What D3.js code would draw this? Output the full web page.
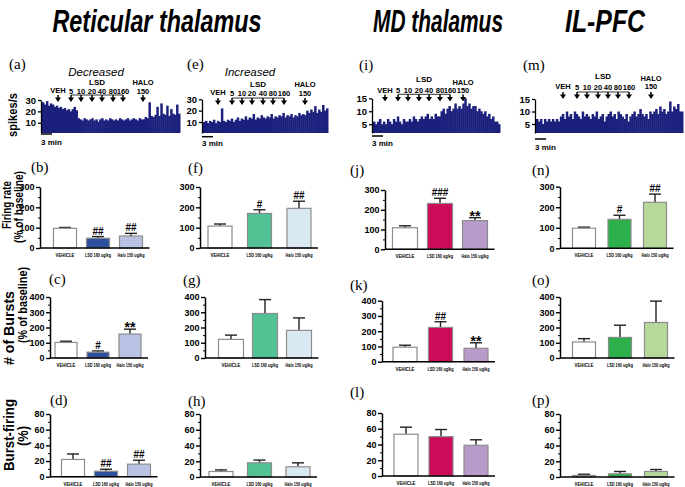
<!DOCTYPE html>
<html><head><meta charset="utf-8">
<script src="https://cdn.jsdelivr.net/npm/d3@7"></script>
<style>body{margin:0;background:#fff} svg{display:block}</style>
</head><body><svg id="c" width="685" height="487"></svg>
<script>
// ---------------- DATA ----------------
const titles = ["Reticular thalamus", "MD thalamus", "IL-PFC"];
const groups = ["VEHICLE", "LSD 160 ug/kg", "Halo 150 ug/kg"];
const doseLabels = ["5", "10", "20", "40", "80", "160"];

// spikes/s histograms
const traceA = [28,26,29,25,27,26,24,25,23,24, 22,23,21,22,20,22,24,21,
  14,13,12,14,13,12,13,14,12,13,11,13,14,12,13,12,14,13,12,13,12,14,13,12,13,14,12,13,14,13,12,14,13,13,
  15,14,28,16,15,17,24,16,27,18,17,25,16,22,18,17,26,18];
const traceE = [10,11,9,11,10,12,9, 11,10,22,11,10,12,11,
  13,10,12,14,11,13,12,15,12,14,13,17,12,14,13,
  16,14,13,15,14,17,13,15,14,16,15,18,14,16,15,17,14,16,15,18,16,17,16,
  20,18,21,19,24,18,21,19,25,20,22];
const traceI = [6,5,6,7,5,6,5,7,6,5,7,6,8,6,5,7,6,6,7,6,8,7,6,7,
  8,7,8,9,7,8,7,9,8,8,
  10,11,9,11,12,10,11,13,11,12,11,13,
  15,12,13,11,12,12,10,11,
  10,9,10,8,9,7,8,6,6,5];
const traceM = [7,6,7,5,7,6,7,6,7,6,7,6,
  8,9,7,10,8,9,7,10,9,8,7,10,8,9,8,7,9,8,10,7,8,9,6,8,9,10,8,9,7,10,9,8,7,9,6,8,9,10,8,9,11,9,8,9,7,10,
  9,10,11,9,12,10,11,9,10,14,10,12,11,13,10,10];

// Reticular thalamus (decreased)
const rtFiring = [97, 48, 59],   rtFiringErr = [4, 8, 13];
const rtBursts = [102, 38, 157], rtBurstsErr = [8, 8, 32];
const rtBurstPct = [22, 7, 16],  rtBurstPctErr = [7, 2.5, 5];
// Reticular thalamus (increased)
const incFiring = [108, 170, 195], incFiringErr = [10, 18, 35];
const incBursts = [122, 292, 181], incBurstsErr = [28, 91, 82];
const incBurstPct = [7, 18, 13],   incBurstPctErr = [2, 3.5, 5];
// MD thalamus
const mdFiring = [109, 232, 145], mdFiringErr = [10, 26, 15];
const mdBursts = [95, 225, 88],   mdBurstsErr = [13, 37, 36];
const mdBurstPct = [53, 50, 39],  mdBurstPctErr = [9, 9, 7];
// IL-PFC
const pfcFiring = [98, 141, 224], pfcFiringErr = [5, 20, 40];
const pfcBursts = [105, 135, 233], pfcBurstsErr = [22, 80, 140];
const pfcBurstPct = [2, 4, 7],    pfcBurstPctErr = [1.5, 3, 2.5];

// significance marks
const sigRtFiring = ["", "##", "##"], sigRtBursts = ["", "#", "**"], sigRtPct = ["", "##", "##"];
const sigIncFiring = ["", "#", "##"];
const sigMdFiring = ["", "###", "**"], sigMdBursts = ["", "##", "**"];
const sigPfcFiring = ["", "#", "##"];
const none = ["", "", ""];

// ---------------- STYLE ----------------
const F = "'Liberation Sans', Arial, Helvetica, sans-serif";
const SERIF = "'Liberation Serif', 'Times New Roman', serif";
const colRT = ["#ffffff", "#2c4f9e", "#b8c2e2"];
const colInc = ["#ffffff", "#52c194", "#d9e9f1"];
const colMD = ["#ffffff", "#cc0c5a", "#b79bcb"];
const colPFC = ["#ffffff", "#2bb04b", "#b6d99b"];
const traceColor = "#1c207d";
const catLen = [19, 26, 27];

const svg = d3.select("#c");

// titles
const titlePos = [{x: 157, w: 209}, {x: 438, w: 130}, {x: 605, w: 80}];
titles.forEach((t, i) => svg.append("text")
  .attr("x", titlePos[i].x).attr("y", 32).attr("text-anchor", "middle")
  .attr("font-family", F).attr("font-weight", "bold").attr("font-style", "italic")
  .attr("font-size", 32).attr("textLength", titlePos[i].w).attr("lengthAdjust", "spacingAndGlyphs")
  .text(t));

function txt(x, y, s, size, opts = {}) {
  const t = svg.append("text").attr("x", x).attr("y", y).attr("font-size", size)
    .attr("font-family", opts.family || F).attr("text-anchor", opts.anchor || "start")
    .attr("font-weight", opts.weight || "normal").attr("font-style", opts.style || "normal")
    .attr("fill", "#000").text(s);
  if (opts.len) t.attr("textLength", opts.len).attr("lengthAdjust", "spacingAndGlyphs");
  if (opts.rotate) t.attr("transform", `rotate(-90,${x},${y})`);
  return t;
}

txt(96, 76, "Decreased", 11.5, {anchor: "middle", style: "italic"});
txt(250, 76, "Increased", 11.5, {anchor: "middle", style: "italic"});

// panel letters
const letters = [
  ["(a)", 9, 69], ["(e)", 187, 69], ["(i)", 359, 70], ["(m)", 523, 70],
  ["(b)", 31, 172], ["(f)", 188, 173], ["(j)", 350, 175], ["(n)", 532, 175],
  ["(c)", 49, 284], ["(g)", 183, 285], ["(k)", 350, 290], ["(o)", 532, 285],
  ["(d)", 50, 405], ["(h)", 188, 406], ["(l)", 350, 397], ["(p)", 532, 405]
];
letters.forEach(l => txt(l[1], l[2], l[0], 15, {family: SERIF}));

// y-axis titles
txt(17, 115, "spikes/s", 12.5, {anchor: "middle", weight: "bold", rotate: true, len: 44});
txt(11, 205, "Firing rate", 13, {anchor: "middle", weight: "bold", rotate: true, len: 48});
txt(22.5, 207, "(% of baseline)", 12.5, {anchor: "middle", weight: "bold", rotate: true, len: 72});
txt(14, 328, "# of Bursts", 15, {anchor: "middle", weight: "bold", rotate: true, len: 74});
txt(27, 305, "(% of baseline)", 12.5, {anchor: "middle", weight: "bold", rotate: true, len: 76});
txt(13.5, 435, "Burst-firing", 15, {anchor: "middle", weight: "bold", rotate: true, len: 72});
txt(28, 436, "(%)", 15, {anchor: "middle", weight: "bold", rotate: true, len: 20});

// ---------------- TRACES ----------------
function arrow(g, x, y) {
  g.append("path").attr("d", `M${x},${y}V${y + 3.5}`).attr("stroke", "#000").attr("stroke-width", 1.5);
  g.append("path").attr("d", `M${x - 3},${y + 2.5}L${x + 3},${y + 2.5}L${x},${y + 7}Z`).attr("fill", "#000");
}

function drawTrace(cfg, data) {
  const g = svg.append("g");
  const x = d3.scaleBand().domain(d3.range(data.length)).range([cfg.x0 + 1, cfg.x1]).padding(0);
  const y = d3.scaleLinear().domain(cfg.dom).range([cfg.yBase, cfg.yTop]);
  g.selectAll("rect").data(data).join("rect")
    .attr("x", (d, i) => x(i)).attr("width", x.bandwidth() + 0.5)
    .attr("y", d => y(d)).attr("height", d => cfg.yBase - y(d))
    .attr("fill", traceColor);
  const ax = g.append("g").attr("transform", `translate(${cfg.x0},0)`)
    .call(d3.axisLeft(y).tickValues(cfg.ticks).tickSize(3).tickSizeOuter(0).tickPadding(2));
  ax.select(".domain").attr("stroke-width", 1.3);
  ax.selectAll(".tick line").attr("stroke-width", 1.3);
  ax.selectAll("text").attr("font-family", F).attr("font-weight", "bold").attr("font-size", 9.5);
  // arrows & labels
  arrow(g, cfg.veh, cfg.arrowY);
  txt(cfg.veh, cfg.vehY, "VEH", 7.5, {anchor: "middle", weight: "bold"});
  cfg.doses.forEach((d, i) => {
    arrow(g, d, cfg.arrowY);
    txt(d, cfg.numY, doseLabels[i], 7.5, {anchor: "middle", weight: "bold"});
  });
  g.append("line").attr("x1", cfg.doses[0]).attr("x2", cfg.doses[5])
    .attr("y1", cfg.lineY).attr("y2", cfg.lineY).attr("stroke", "#000").attr("stroke-width", 0.8);
  txt((cfg.doses[0] + cfg.doses[5]) / 2, cfg.lsdY, "LSD", 8, {anchor: "middle", weight: "bold"});
  arrow(g, cfg.halo, cfg.arrowY);
  txt(cfg.halo, cfg.haloY, "HALO", 7.5, {anchor: "middle", weight: "bold"});
  txt(cfg.halo, cfg.h150Y, "150", 7.5, {anchor: "middle", weight: "bold"});
  // scale bar
  g.append("line").attr("x1", cfg.x0).attr("x2", cfg.x0 + 11).attr("y1", cfg.sbY).attr("y2", cfg.sbY)
    .attr("stroke", "#000").attr("stroke-width", 1.5);
  txt(cfg.x0, cfg.sbT, "3 min", 8, {weight: "bold"});
}

drawTrace({x0: 41, x1: 180, yBase: 133, yTop: 100, dom: [1, 30], ticks: [10, 20, 30],
  veh: 58, doses: [71, 81, 92, 102, 113, 123], halo: 143,
  vehY: 93, numY: 93.5, lsdY: 85, haloY: 85, h150Y: 93.5, lineY: 95, arrowY: 95, sbY: 134, sbT: 145}, traceA);
drawTrace({x0: 202, x1: 328, yBase: 133, yTop: 99.3, dom: [0.3, 30], ticks: [10, 20, 30],
  veh: 218, doses: [232, 242, 252, 263, 273, 284], halo: 305,
  vehY: 95, numY: 96, lsdY: 87, haloY: 87, h150Y: 96, lineY: 98, arrowY: 98, sbY: 136.7, sbT: 146}, traceE);
drawTrace({x0: 372, x1: 500, yBase: 133, yTop: 98.3, dom: [1.6, 15], ticks: [5, 10, 15],
  veh: 385, doses: [398, 408, 419, 429, 440, 450], halo: 463,
  vehY: 93, numY: 93, lsdY: 82, haloY: 85, h150Y: 93, lineY: 94.3, arrowY: 94.5, sbY: 136, sbT: 146}, traceI);
drawTrace({x0: 535, x1: 683, yBase: 133, yTop: 99, dom: [1.4, 15], ticks: [5, 10, 15],
  veh: 563, doses: [577, 587, 598, 608, 618, 629], halo: 651,
  vehY: 89, numY: 90, lsdY: 79, haloY: 81, h150Y: 89, lineY: 92, arrowY: 92, sbY: 139, sbT: 150}, traceM);

// ---------------- BAR PANELS ----------------
function drawBars(cfg, vals, errs, colors, marks) {
  const g = svg.append("g");
  const s = (cfg.c[2] - cfg.c[0]) / 2;
  const p = 1 - cfg.w / s;
  const x = d3.scaleBand().domain(groups).range([cfg.c[0] - s / 2, cfg.c[2] + s / 2])
    .paddingInner(p).paddingOuter(p / 2);
  const y = d3.scaleLinear().domain([0, cfg.max]).range([cfg.yBot, cfg.yTop]);
  const rows = groups.map((k, i) => ({k, v: vals[i], e: errs[i], c: colors[i], m: marks[i]}));
  // error bars (upper only)
  rows.forEach(r => {
    const cx = x(r.k) + x.bandwidth() / 2;
    g.append("line").attr("x1", cx).attr("x2", cx).attr("y1", y(r.v)).attr("y2", y(r.v + r.e))
      .attr("stroke", "#222").attr("stroke-width", 1.4);
    g.append("line").attr("x1", cx - 6).attr("x2", cx + 6).attr("y1", y(r.v + r.e)).attr("y2", y(r.v + r.e))
      .attr("stroke", "#222").attr("stroke-width", 1.4);
    if (r.m) {
      const star = r.m.indexOf("*") >= 0;
      txt(cx, y(r.v + r.e) - (star ? -3 : 2), r.m, star ? 14 : 10, {anchor: "middle", weight: "bold"});
    }
  });
  g.selectAll("rect.bar").data(rows).join("rect").attr("class", "bar")
    .attr("x", d => x(d.k)).attr("width", x.bandwidth())
    .attr("y", d => y(d.v)).attr("height", d => cfg.yBot - y(d.v))
    .attr("fill", d => d.c).attr("stroke", "#8c8c8c").attr("stroke-width", 1.2);
  // axes
  const xEnd = cfg.c[2] + cfg.w / 2 + 7;
  g.append("line").attr("x1", cfg.x0).attr("x2", xEnd).attr("y1", cfg.yBot).attr("y2", cfg.yBot)
    .attr("stroke", "#000").attr("stroke-width", 1.5);
  const minor = g.append("g").attr("transform", `translate(${cfg.x0},0)`)
    .call(d3.axisLeft(y).tickValues(d3.range(cfg.step / 2, cfg.max, cfg.step)).tickSize(2).tickSizeOuter(0).tickFormat(""));
  minor.select(".domain").remove();
  minor.selectAll(".tick line").attr("stroke-width", 1);
  const ax = g.append("g").attr("transform", `translate(${cfg.x0},0)`)
    .call(d3.axisLeft(y).tickValues(d3.range(0, cfg.max + 0.001, cfg.step)).tickSize(4).tickSizeOuter(0).tickPadding(1.5));
  ax.select(".domain").attr("stroke-width", 1.5);
  ax.selectAll(".tick line").attr("stroke-width", 1.4);
  ax.selectAll("text").attr("font-family", F).attr("font-weight", "bold").attr("font-size", 9);
  // category labels
  groups.forEach((k, i) => txt(x(k) + x.bandwidth() / 2, cfg.yBot + 9, k, 4.5, {anchor: "middle", weight: "bold", len: catLen[i]}));
}

drawBars({x0: 40, yBot: 248, yTop: 187, max: 300, step: 100, c: [65, 98, 131], w: 23}, rtFiring, rtFiringErr, colRT, sigRtFiring);
drawBars({x0: 50, yBot: 358, yTop: 297, max: 400, step: 100, c: [66, 98, 130], w: 22}, rtBursts, rtBurstsErr, colRT, sigRtBursts);
drawBars({x0: 50, yBot: 476.7, yTop: 414, max: 80, step: 20, c: [73, 106, 139], w: 23}, rtBurstPct, rtBurstPctErr, colRT, sigRtPct);

drawBars({x0: 200, yBot: 248, yTop: 187, max: 300, step: 100, c: [220, 259, 299], w: 24}, incFiring, incFiringErr, colInc, sigIncFiring);
drawBars({x0: 205, yBot: 358, yTop: 297, max: 400, step: 100, c: [231, 264, 299], w: 25}, incBursts, incBurstsErr, colInc, none);
drawBars({x0: 200, yBot: 477, yTop: 414, max: 80, step: 20, c: [221, 260, 298], w: 24}, incBurstPct, incBurstPctErr, colInc, none);

drawBars({x0: 385, yBot: 249.3, yTop: 190, max: 300, step: 100, c: [405, 439, 475], w: 25}, mdFiring, mdFiringErr, colMD, sigMdFiring);
drawBars({x0: 382, yBot: 361.7, yTop: 300.7, max: 400, step: 100, c: [405, 440, 476], w: 24}, mdBursts, mdBurstsErr, colMD, sigMdBursts);
drawBars({x0: 382, yBot: 476, yTop: 413, max: 80, step: 20, c: [406, 440, 476], w: 24}, mdBurstPct, mdBurstPctErr, colMD, none);

drawBars({x0: 560, yBot: 248.3, yTop: 186.7, max: 300, step: 100, c: [584, 619, 655], w: 23}, pfcFiring, pfcFiringErr, colPFC, sigPfcFiring);
drawBars({x0: 560, yBot: 358, yTop: 297, max: 400, step: 100, c: [584, 619, 656], w: 23}, pfcBursts, pfcBurstsErr, colPFC, none);
drawBars({x0: 560, yBot: 477, yTop: 414, max: 80, step: 20, c: [584, 619, 656], w: 23}, pfcBurstPct, pfcBurstPctErr, colPFC, none);
</script></body></html>
